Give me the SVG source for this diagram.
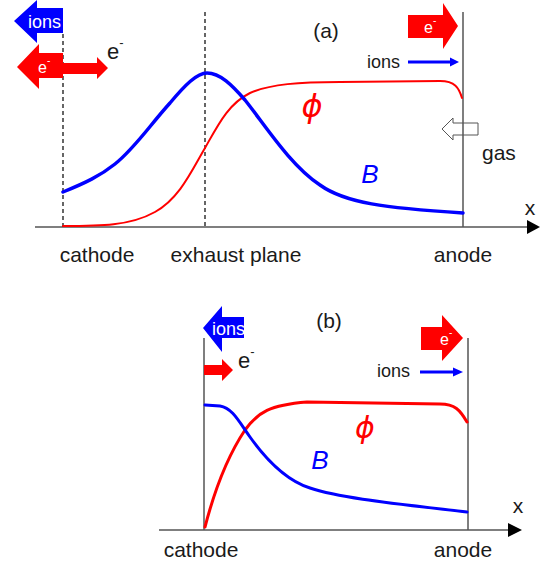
<svg xmlns="http://www.w3.org/2000/svg" width="549" height="569" viewBox="0 0 549 569">
<style>
text{font-family:"Liberation Sans","DejaVu Sans",Arial,sans-serif;}
.lbl{font-size:21px;fill:#1a1a1a;}
.axis{stroke:#7f7f7f;stroke-width:2;fill:none;}
.wall{stroke:#555;stroke-width:1.5;fill:none;}
.dash{stroke:#000;stroke-width:1.2;stroke-dasharray:4,3;fill:none;}
.red{fill:#ff0000;}
.blue{fill:#0000ff;}
.wtxt{fill:#fff;}
.phi{stroke:#ff0000;fill:none;stroke-linecap:round;}
.bcur{stroke:#0000ff;fill:none;stroke-width:3.5;stroke-linecap:round;}
.ital{font-style:italic;font-size:26px;}
.phis{font-family:"DejaVu Sans","Liberation Sans",sans-serif;font-style:italic;fill:#ff0000;}
</style>
<defs>
<clipPath id="clipIonsB"><polygon points="203,328 222,306 222,317 244,317 244,338 222,338 222,352"/></clipPath>
<clipPath id="clipIonsA"><polygon points="14,21 37,0 37,8 63,8 63,33 37,33 37,43"/></clipPath>
</defs>

<g id="panel-a">
  <g id="connectors-a">
    <line class="axis" x1="35" y1="227" x2="528" y2="227"/>
    <polygon points="527,220 540,227 527,234" fill="#000"/>
    <line class="dash" x1="63" y1="34" x2="63" y2="227"/>
    <line class="dash" x1="205" y1="12" x2="205" y2="227"/>
  </g>
  <g id="gas-arrow">
    <polygon points="442,129 453,118 453,123 478,123 478,135 453,135 453,140" fill="#fff" stroke="#555" stroke-width="1"/>
    <text class="lbl" x="482" y="160">gas</text>
  </g>
  <g id="anode-wall-a"><line class="wall" x1="463" y1="12" x2="463" y2="227"/></g>
  <g id="curve-phi-a"><path class="phi" stroke-width="2" d="M63,226 C100,226 130,226 155,212 C180,198 192,170 205,148 C218,125 228,104 250,93 C270,84 300,82 340,82 L440,81 C455,81 459,88 462,98"/></g>
  <g id="curve-B-a"><path class="bcur" d="M63,192 C85,183 100,176 115,164 C135,148 150,125 170,103 C185,85 197,73 207,73 C220,73 232,85 245,100 C265,125 290,165 320,185 C345,203 385,208 463,213"/></g>
  <g id="ions-left-a">
    <polygon class="blue" points="14,21 37,0 37,8 63,8 63,33 37,33 37,43"/>
    <text class="wtxt" x="28" y="28" font-size="18" clip-path="url(#clipIonsA)">ions</text>
  </g>
  <g id="e-left-a">
    <polygon class="red" points="17,67 39,44 39,53 63,53 63,78 39,78 39,89"/>
    <text class="wtxt" x="38" y="73" font-size="16">e<tspan font-size="10" dy="-9">-</tspan></text>
  </g>
  <g id="e-right-a">
    <polygon class="red" points="63,63 97,63 97,57 108,68 97,79 97,74 63,74"/>
    <text class="lbl" x="107" y="59" style="font-size:22px">e<tspan font-size="13" dy="-12">-</tspan></text>
  </g>
  <g id="e-anode-a">
    <polygon class="red" points="408,15 443,15 443,3 458,26 443,49 443,38 408,38"/>
    <text class="wtxt" x="424" y="33" font-size="16">e<tspan font-size="10" dy="-9">-</tspan></text>
  </g>
  <g id="ions-right-a">
    <text class="lbl" x="367" y="68" style="font-size:18px">ions</text>
    <line x1="408" y1="62" x2="452" y2="62" stroke="#0000ff" stroke-width="3"/>
    <polygon class="blue" points="450,57.5 459,62 450,66.5"/>
  </g>
  <text class="lbl" x="326" y="38" text-anchor="middle">(a)</text>
  <text class="phis" x="312" y="117" text-anchor="middle" font-size="32">ϕ</text>
  <text class="ital" x="370" y="183" text-anchor="middle" fill="#0000ff">B</text>
  <text class="lbl" x="530" y="215" text-anchor="middle">x</text>
  <text class="lbl" x="97" y="262" text-anchor="middle">cathode</text>
  <text class="lbl" x="236" y="262" text-anchor="middle">exhaust plane</text>
  <text class="lbl" x="463" y="262" text-anchor="middle">anode</text>
</g>

<g id="panel-b">
  <g id="connectors-b">
    <line class="axis" x1="159" y1="530" x2="510" y2="530"/>
    <polygon points="508,523 522,530 508,537" fill="#000"/>
    <line class="wall" x1="204" y1="338" x2="204" y2="530"/>
    <line class="wall" x1="468" y1="338" x2="468" y2="530"/>
  </g>
  <g id="curve-phi-b"><path class="phi" stroke-width="3" d="M205,527 C212,500 225,460 245,430 C258,412 270,405 307,402 L440,404 C455,404 460,410 467,422"/></g>
  <g id="curve-B-b"><path class="bcur" style="stroke-width:3" d="M205,405 L220,406 C232,408 238,420 250,437 C265,458 285,480 310,488 C340,498 390,503 467,512"/></g>
  <g id="ions-left-b">
    <polygon class="blue" points="203,328 222,306 222,317 244,317 244,338 222,338 222,352"/>
    <text class="wtxt" x="212" y="335" font-size="18" clip-path="url(#clipIonsB)">ions</text>
  </g>
  <g id="e-right-b">
    <polygon class="red" points="204,365 222,365 222,359 233,370 222,381 222,375 204,375"/>
    <text class="lbl" x="238" y="368" style="font-size:22px">e<tspan font-size="13" dy="-12">-</tspan></text>
  </g>
  <g id="e-anode-b">
    <polygon class="red" points="421,327 442,327 442,315 463,338 442,361 442,350 421,350"/>
    <text class="wtxt" x="440" y="345" font-size="16">e<tspan font-size="10" dy="-9">-</tspan></text>
  </g>
  <g id="ions-right-b">
    <text class="lbl" x="377" y="377" style="font-size:18px">ions</text>
    <line x1="420" y1="372" x2="455" y2="372" stroke="#0000ff" stroke-width="3"/>
    <polygon class="blue" points="453,367.5 463,372 453,376.5"/>
  </g>
  <text class="lbl" x="329" y="328" text-anchor="middle">(b)</text>
  <text class="phis" x="365" y="438" text-anchor="middle" font-size="30">ϕ</text>
  <text class="ital" x="320" y="469" text-anchor="middle" fill="#0000ff">B</text>
  <text class="lbl" x="518" y="513" text-anchor="middle">x</text>
  <text class="lbl" x="201" y="557" text-anchor="middle">cathode</text>
  <text class="lbl" x="463" y="557" text-anchor="middle">anode</text>
</g>
</svg>
